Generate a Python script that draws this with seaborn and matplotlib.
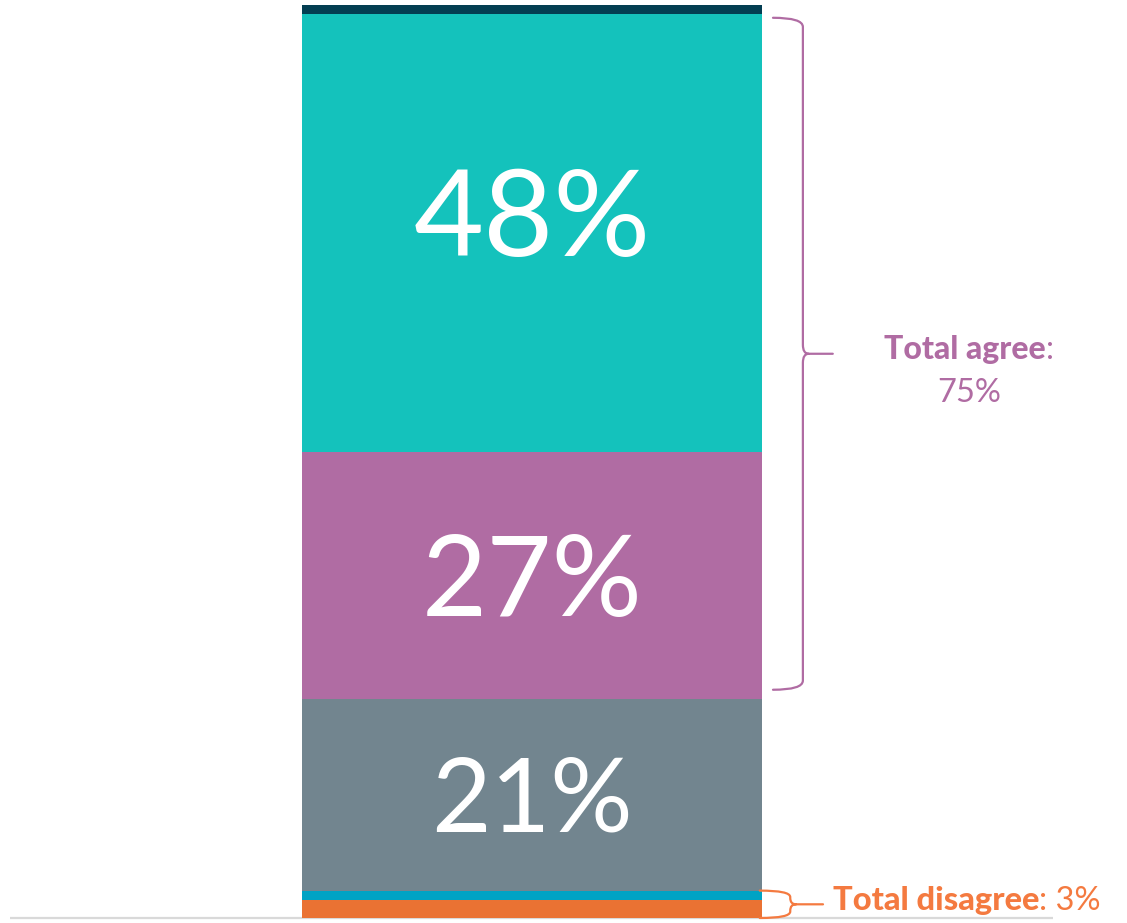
import numpy as np
import matplotlib
matplotlib.use("Agg")
import matplotlib.pyplot as plt
from matplotlib.path import Path
from matplotlib.patches import PathPatch
import seaborn as sns

# segments from bottom to top
segments = ["Strongly disagree", "Disagree", "Neither", "Agree", "Strongly agree", "Don't know"]
values = [2, 1, 21, 27, 48, 1]
colors = ["#EA7233", "#00A3C4", "#72858F", "#B06CA3", "#14C2BC", "#033E52"]
labels = ["", "", "21%", "27%", "48%", ""]
label_sizes = [0, 0, 74, 81, 87, 0]

agree_total = "75%"
disagree_total = "3%"

sns.set_theme(style="white")
plt.rcParams["font.family"] = ["Lato", "DejaVu Sans"]

PX = 9.13  # pixels per percentage point on the y axis

fig = plt.figure(figsize=(11.27, 9.23), dpi=100)
ax = fig.add_axes([10 / 1127, 2 / 923, 1043 / 1127, 916 / 923])

bottoms = np.concatenate([[0], np.cumsum(values)[:-1]])
for seg, v, b, c in zip(segments, values, bottoms, colors):
    sns.barplot(x=["all"], y=[v], bottom=b, color=c, width=0.8,
                saturation=1, linewidth=0, edgecolor=c, ax=ax, zorder=2)

# the big top label sits a bit above the middle of its block
lift = {"48%": 2.2}
for v, b, lab, fs in zip(values, bottoms, labels, label_sizes):
    if lab:
        y = b + v / 2 + lift.get(lab, 0) - fs * 0.995 / 2 / PX
        ax.text(0, y, lab, ha="center", va="baseline", color="white",
                fontsize=fs, fontweight=400)

ax.set_xlim(-0.908, 0.906)
ax.set_ylim(-3 / PX, 100)
ax.axhline(0, color="#D9D9D9", lw=1.6, zorder=1)
ax.set_axis_off()


def brace(y0, y1, x_end, x_spine, x_tip, r, color):
    """ Curly brace: ends at x_end, vertical spine at x_spine, point at x_tip. """
    ym = (y0 + y1) / 2
    verts = [(x_end, y1), (x_spine, y1), (x_spine, y1 - r),
             (x_spine, ym + r),
             (x_spine, ym), (x_spine + 0.01, ym),
             (x_tip, ym),
             (x_spine + 0.01, ym),
             (x_spine, ym), (x_spine, ym - r),
             (x_spine, y0 + r),
             (x_spine, y0), (x_end, y0)]
    codes = [Path.MOVETO, Path.CURVE3, Path.CURVE3,
             Path.LINETO,
             Path.CURVE3, Path.CURVE3,
             Path.LINETO,
             Path.MOVETO,
             Path.CURVE3, Path.CURVE3,
             Path.LINETO,
             Path.CURVE3, Path.CURVE3]
    ax.add_patch(PathPatch(Path(verts, codes), fill=False, edgecolor=color,
                           lw=1.6, capstyle="round", joinstyle="round",
                           clip_on=False, zorder=3))


def rich(x, y, parts, centered, fs, color):
    """ Draw a row of text pieces with different weights side by side. """
    fig.canvas.draw()
    r = fig.canvas.get_renderer()
    widths = []
    for s, w in parts:
        tt = ax.text(0, 0, s, fontsize=fs, fontweight=w)
        widths.append(tt.get_window_extent(r).width)
        tt.remove()
    px0 = ax.transData.transform((x, y))
    cur = px0[0] - sum(widths) / 2 if centered else px0[0]
    inv = ax.transData.inverted()
    for (s, w), wd in zip(parts, widths):
        xd = inv.transform((cur, px0[1]))[0]
        ax.text(xd, y, s, fontsize=fs, fontweight=w, color=color,
                ha="left", va="baseline")
        cur += wd


purple = "#B06CA3"
orange = "#F47A40"

# total agree brace (Agree + Strongly agree)
ag0 = bottoms[3] + 1
ag1 = bottoms[4] + values[4] - 0.4
brace(ag0, ag1, 0.419, 0.471, 0.523, 1.0, purple)
agm = (ag0 + ag1) / 2
rich(0.760, agm - 0.62, [("Total agree", 900), (":", "normal")], True, 23, purple)
ax.text(0.760, agm - 5.3, agree_total, ha="center", va="baseline",
        fontsize=23.5, color=purple)

# total disagree brace (Strongly disagree + Disagree)
brace(bottoms[0], bottoms[2], 0.396, 0.449, 0.506, 0.7, orange)
rich(0.523, 0.88, [("Total disagree", 900), (": " + disagree_total, "normal")],
     False, 23.5, orange)

fig.savefig("out.png", dpi=100)
